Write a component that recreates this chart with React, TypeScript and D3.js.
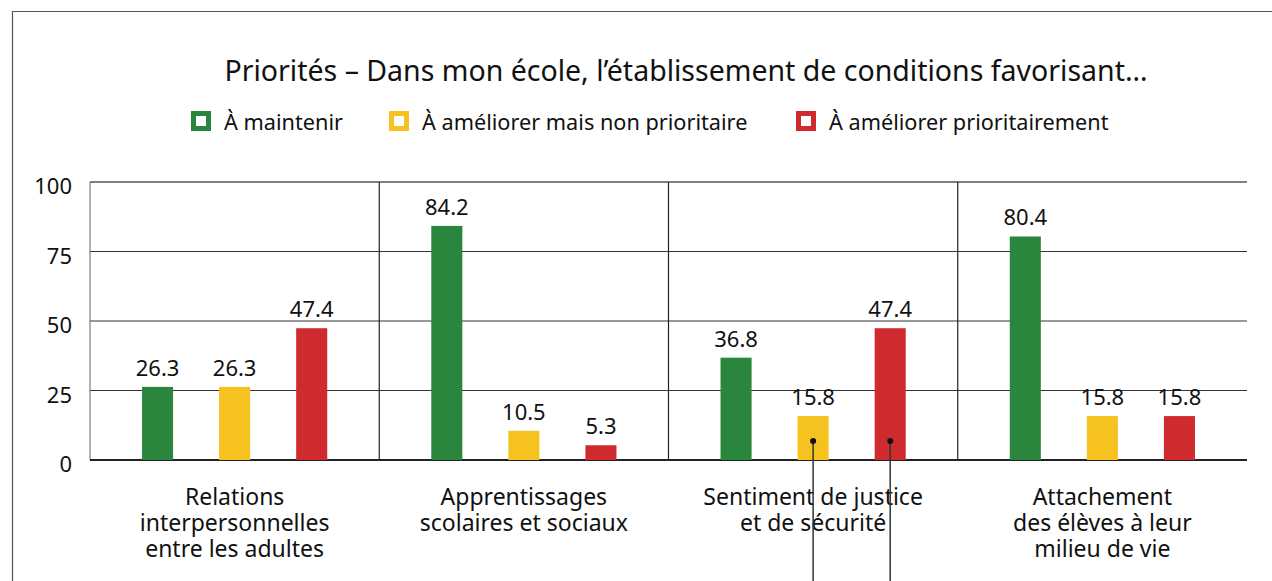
import React from 'react';
import * as d3 from 'd3';

const categories = [
  ['Relations', 'interpersonnelles', 'entre les adultes'],
  ['Apprentissages', 'scolaires et sociaux'],
  ['Sentiment de justice', 'et de sécurité'],
  ['Attachement', 'des élèves à leur', 'milieu de vie'],
];
const series = ['À maintenir', 'À améliorer mais non prioritaire', 'À améliorer prioritairement'];
const colors = ['#2a853d', '#f6c21f', '#cf2a2e'];
const maintenir = [26.3, 84.2, 36.8, 80.4];
const ameliorer = [26.3, 10.5, 15.8, 15.8];
const prioritaire = [47.4, 5.3, 47.4, 15.8];
const yTicks = [0, 25, 50, 75, 100];
// pointer markers drawn on the 3rd group (yellow + red bars)
const markers = [
  { group: 2, serie: 1, value: 6.8 },
  { group: 2, serie: 2, value: 6.8 },
];

const W = 1272;
const H = 581;
const FONT = '"Noto Sans", sans-serif';

export default function App() {
  const values = [maintenir, ameliorer, prioritaire];
  const left = 90, right = 1247, top = 182, bottom = 460;

  const x0 = d3.scaleBand<number>().domain(d3.range(categories.length)).range([left, right]);
  const x1 = d3.scaleBand<number>().domain(d3.range(series.length))
    .range([0, x0.bandwidth()]).paddingInner(0.597).paddingOuter(0.675);
  const y = d3.scaleLinear().domain([0, 100]).range([bottom, top]);

  const legendX = [191, 389, 796];

  return (
    <svg width={W} height={H} style={{ position: 'absolute', left: 0, top: 0, background: '#fff' }}
      fontFamily={FONT}>
      {/* frame */}
      <line x1={12} x2={W} y1={11.5} y2={11.5} stroke="#555" strokeWidth={1.2} />
      <line x1={12.5} x2={12.5} y1={11} y2={H} stroke="#555" strokeWidth={1.2} />

      <text x={686} y={81} textAnchor="middle" fontSize={28.5} fill="#111">
        Priorités – Dans mon école, l’établissement de conditions favorisant…
      </text>

      {series.map((s, i) => (
        <g key={s} transform={`translate(${legendX[i]},111)`}>
          <rect x={2.5} y={2.5} width={15} height={15} fill="#fff" stroke={colors[i]} strokeWidth={5} />
          <text x={33} y={10} dominantBaseline="central" fontSize={21.7} fill="#111">{s}</text>
        </g>
      ))}

      {/* grid */}
      {yTicks.filter(t => t > 0 && t < 100).map(t => (
        <line key={t} x1={left} x2={right} y1={y(t)} y2={y(t)} stroke="#333" strokeWidth={1.2} />
      ))}
      <line x1={left} x2={right} y1={y(100)} y2={y(100)} stroke="#555" strokeWidth={1.6} />
      <line x1={left} x2={left} y1={top} y2={bottom} stroke="#666" strokeWidth={1} />
      {d3.range(1, categories.length).map(i => (
        <line key={i} x1={x0(i)!} x2={x0(i)!} y1={top} y2={bottom} stroke="#222" strokeWidth={1.2} />
      ))}
      <line x1={left} x2={right} y1={y(0)} y2={y(0)} stroke="#222" strokeWidth={2.2} />

      {yTicks.map(t => (
        <text key={t} x={72} y={y(t) + 3} textAnchor="end" dominantBaseline="central" fontSize={22} fill="#111">{t}</text>
      ))}

      {/* bars */}
      {categories.map((c, g) => (
        <g key={g} transform={`translate(${x0(g)},0)`}>
          {values.map((vals, si) => (
            <g key={si}>
              <rect x={x1(si)} y={y(vals[g])} width={x1.bandwidth()} height={y(0) - y(vals[g])} fill={colors[si]} />
              <text x={x1(si)! + x1.bandwidth() / 2} y={y(vals[g]) - 11} textAnchor="middle" fontSize={22} fill="#111">
                {vals[g].toFixed(1)}
              </text>
            </g>
          ))}
          {c.map((line, li) => (
            <text key={li} x={x0.bandwidth() / 2} y={505 + li * 26} textAnchor="middle" fontSize={23} fill="#111">{line}</text>
          ))}
        </g>
      ))}

      {/* pointer lines */}
      {markers.map((m, i) => {
        const cx = x0(m.group)! + x1(m.serie)! + x1.bandwidth() / 2;
        return (
          <g key={i}>
            <line x1={cx} x2={cx} y1={y(m.value)} y2={H} stroke="#333" strokeWidth={1.5} />
            <circle cx={cx} cy={y(m.value)} r={3} fill="#111" />
          </g>
        );
      })}
    </svg>
  );
}
